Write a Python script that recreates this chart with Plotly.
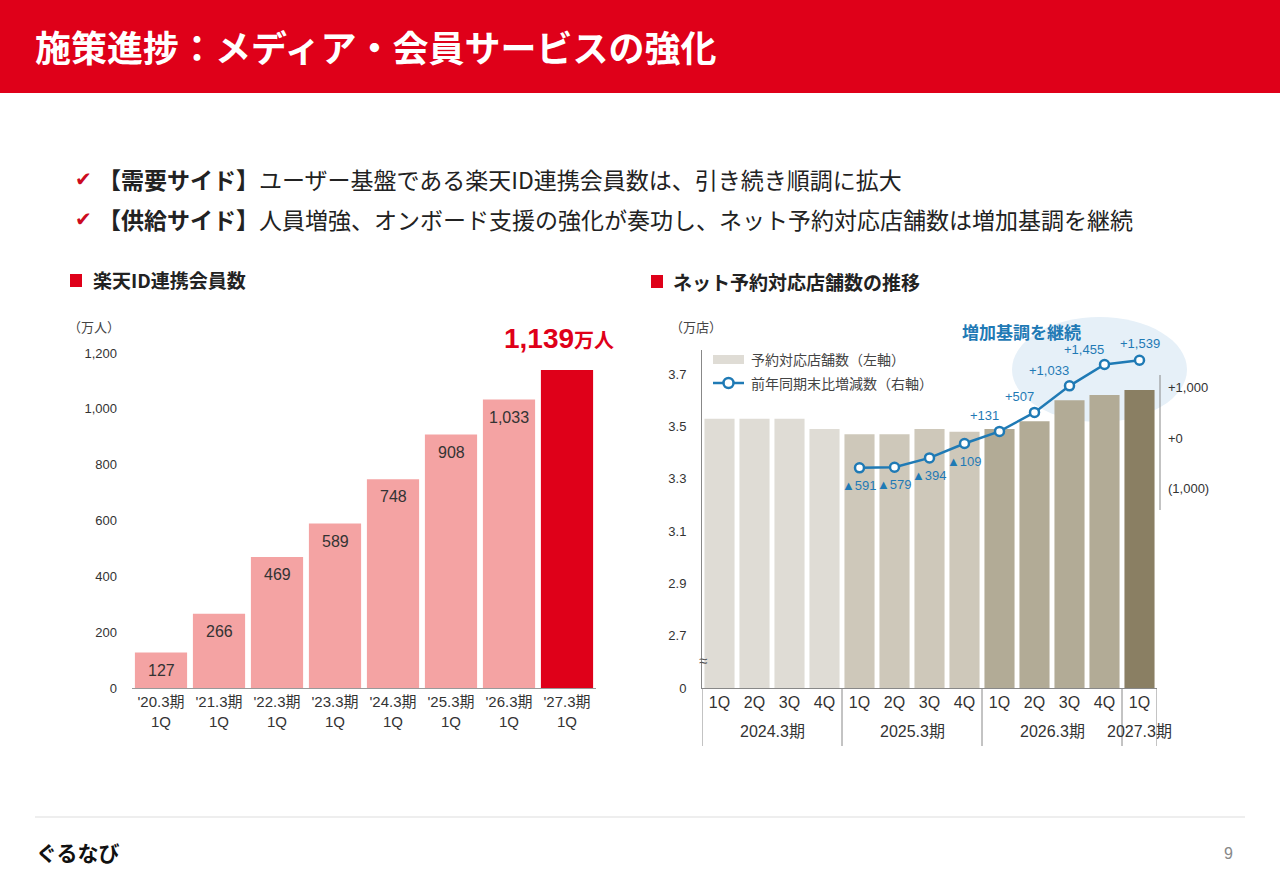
import plotly.graph_objects as go

W, H = 1280, 886

# 楽天ID連携会員数（万人）
member_periods = ["'20.3期<br>1Q", "'21.3期<br>1Q", "'22.3期<br>1Q", "'23.3期<br>1Q",
                  "'24.3期<br>1Q", "'25.3期<br>1Q", "'26.3期<br>1Q", "'27.3期<br>1Q"]
members = [127, 266, 469, 589, 748, 908, 1033, 1139]

# ネット予約対応店舗数（万店）
fiscal_years = ["2024.3期"] * 4 + ["2025.3期"] * 4 + ["2026.3期"] * 4 + ["2027.3期"]
quarters = ["1Q", "2Q", "3Q", "4Q"] * 3 + ["1Q"]
stores = [3.53, 3.53, 3.53, 3.49, 3.47, 3.47, 3.49, 3.48, 3.49, 3.52, 3.60, 3.62, 3.64]

# 前年同期末比増減数（2025.3期1Q〜）
yoy_change = [-591, -579, -394, -109, 131, 507, 1033, 1455, 1539]

year_colors = {"2024.3期": "#dfdcd5", "2025.3期": "#cec8ba", "2026.3期": "#b2ab96", "2027.3期": "#8a7f63"}
RED = "#df0019"
BLUE = "#1f7ab5"
FONT = "Liberation Sans, Noto Sans CJK JP"
JP = "Noto Sans CJK JP"


def px(x):
    return x / W


def py(y):
    return 1 - y / H


store_cats = [f"{y} {q}" for y, q in zip(fiscal_years, quarters)]
yoy_cats = store_cats[len(store_cats) - len(yoy_change):]

fig = go.Figure()

# left chart
fig.add_trace(go.Bar(
    x=member_periods, y=members, width=0.9,
    marker=dict(color=["#f4a3a3"] * (len(members) - 1) + [RED], line_width=0),
    showlegend=False, hoverinfo="skip", xaxis="x", yaxis="y"))

# right chart bars
fig.add_trace(go.Bar(
    x=store_cats, y=stores, width=0.86,
    marker=dict(color=[year_colors[y] for y in fiscal_years], line_width=0),
    name="予約対応店舗数（左軸）", showlegend=False, xaxis="x2", yaxis="y2"))

# right chart line
fig.add_trace(go.Scatter(
    x=yoy_cats, y=yoy_change, mode="lines+markers",
    line=dict(color=BLUE, width=2.5),
    marker=dict(symbol="circle", size=9, color="white", line=dict(color=BLUE, width=2.5)),
    name="前年同期末比増減数（右軸）", showlegend=False, xaxis="x2", yaxis="y3", cliponaxis=False))

shapes = [
    dict(type="rect", xref="paper", yref="paper", x0=0, x1=1, y0=py(93), y1=1,
         fillcolor=RED, line_width=0),
    dict(type="rect", xref="paper", yref="paper", x0=px(70), x1=px(82), y0=py(287), y1=py(274),
         fillcolor=RED, line_width=0),
    dict(type="rect", xref="paper", yref="paper", x0=px(651), x1=px(663), y0=py(288), y1=py(275),
         fillcolor=RED, line_width=0),
    dict(type="circle", xref="paper", yref="paper", x0=px(1012), x1=px(1187), y0=py(422), y1=py(317),
         fillcolor="#e6f0f8", line_width=0, layer="below"),
    dict(type="line", xref="paper", yref="paper", x0=px(1160), x1=px(1160), y0=py(510), y1=py(375),
         line=dict(color="#888888", width=1)),
    dict(type="line", xref="paper", yref="paper", x0=px(35), x1=px(1245), y0=py(817), y1=py(817),
         line=dict(color="#dddddd", width=1)),
    # legend keys
    dict(type="rect", xref="paper", yref="paper", x0=px(713), x1=px(744), y0=py(364), y1=py(355),
         fillcolor=year_colors["2024.3期"], line_width=0),
    dict(type="line", xref="paper", yref="paper", x0=px(713), x1=px(744), y0=py(383), y1=py(383),
         line=dict(color=BLUE, width=2.5)),
    dict(type="circle", xref="paper", yref="paper", x0=px(723.5), x1=px(733.5), y0=py(388), y1=py(378),
         fillcolor="white", line=dict(color=BLUE, width=2.5)),
]


def note(x, y, text, size, color="#222222", family=JP, xanchor="left", xref="paper"):
    return dict(x=x if xref != "paper" else px(x), y=py(y), xref=xref, yref="paper", text=text,
                showarrow=False, xanchor=xanchor, yanchor="middle",
                font=dict(size=size, color=color, family=family))


annotations = [
    note(33, 46, "<b>施策進捗：メディア・会員サービスの強化</b>", 36, "white"),
    note(73, 179, "✔", 20, "#cc0a20", "DejaVu Sans"),
    note(96, 179, "<b>【需要サイド】</b>ユーザー基盤である楽天ID連携会員数は、引き続き順調に拡大", 23),
    note(73, 219, "✔", 20, "#cc0a20", "DejaVu Sans"),
    note(96, 219, "<b>【供給サイド】</b>人員増強、オンボード支援の強化が奏功し、ネット予約対応店舗数は増加基調を継続", 23),
    note(91, 280, "<b>楽天ID連携会員数</b>", 19),
    note(671, 282, "<b>ネット予約対応店舗数の推移</b>", 19),
    note(66, 326, "（万人）", 13, "#444444"),
    note(668, 326, "（万店）", 13, "#444444"),
    note(559, 338, f"<b>{members[-1]:,}<span style='font-size:20px'>万人</span></b>", 28, RED, FONT, "center"),
    note(960, 331, "<b>増加基調を継続</b>", 17, BLUE),
    note(703, 660, "≈", 15, "#555555", FONT, "center"),
    note(749, 359, "予約対応店舗数（左軸）", 14, "#444444"),
    note(749, 383, "前年同期末比増減数（右軸）", 14, "#444444"),
    note(34, 852, "<b>ぐるなび</b>", 21, "#111111"),
    note(1228, 853, "9", 16, "#888888", FONT, "center"),
]

# member value labels inside the bars (the latest one is shown above in red)
for cat, v in zip(member_periods[:-1], members[:-1]):
    annotations.append(dict(x=cat, y=v, xref="x", yref="y", text=f"{v:,}", showarrow=False,
                            xanchor="center", yanchor="top", yshift=-7,
                            font=dict(size=16, color="#333333", family=FONT)))

# labels of the year-on-year line
for i, (cat, v) in enumerate(zip(yoy_cats, yoy_change)):
    if v < 0:
        lab, xa, ya, ys, xs = f"▲{-v:,}", "center", "top", -8, 0
    elif i == len(yoy_change) - 1:
        lab, xa, ya, ys, xs = f"+{v:,}", "center", "bottom", 7, 0
    else:
        lab, xa, ya, ys, xs = f"+{v:,}", "right", "bottom", 6, 1
    annotations.append(dict(x=cat, y=v, xref="x2", yref="y3", text=lab, showarrow=False,
                            xanchor=xa, yanchor=ya, yshift=ys, xshift=xs,
                            font=dict(size=13, color=BLUE, family=FONT)))

# fiscal year group labels and dividers under the quarter ticks
groups = []
for i, fy in enumerate(fiscal_years):
    if groups and groups[-1][0] == fy:
        groups[-1][2] = i
    else:
        groups.append([fy, i, i])
for fy, start, end in groups:
    annotations.append(note((start + end) / 2, 731, fy, 16, "#333333", FONT, "center", "x2"))
    shapes.append(dict(type="line", xref="x2", yref="paper", x0=start - 0.5, x1=start - 0.5,
                       y0=py(746), y1=py(688), line=dict(color="#888888", width=1)))
shapes.append(dict(type="line", xref="x2", yref="paper", x0=groups[-1][2] + 0.5, x1=groups[-1][2] + 0.5,
                   y0=py(746), y1=py(688), line=dict(color="#888888", width=1)))

fig.update_layout(
    width=W, height=H, margin=dict(l=0, r=0, t=0, b=0, autoexpand=False),
    paper_bgcolor="white", plot_bgcolor="white",
    font=dict(family=FONT, color="#333333"),
    barmode="group", showlegend=False,
    xaxis=dict(domain=[px(132), px(596)], anchor="y", type="category", automargin=False,
               range=[-0.5, len(members) - 0.5],
               showline=True, linecolor="#999999", ticks="", tickfont=dict(size=15, color="#333333")),
    yaxis=dict(domain=[py(688), py(353)], anchor="x", range=[0, 1200], automargin=False,
               tickvals=list(range(0, 1201, 200)), tickformat=",", showgrid=False, zeroline=False,
               showline=False, ticklabelstandoff=14, tickfont=dict(size=13, color="#333333")),
    xaxis2=dict(domain=[px(702), px(1157)], anchor="y2", type="category", automargin=False,
                range=[-0.5, len(store_cats) - 0.5],
                tickvals=store_cats, ticktext=quarters,
                showline=True, linecolor="#888888", ticks="", tickfont=dict(size=16, color="#333333")),
    yaxis2=dict(domain=[py(688), py(350)], anchor="x2", range=[2.5, 2.5 + 338 / 261.5],
                automargin=False,
                tickvals=[2.5, 2.7, 2.9, 3.1, 3.3, 3.5, 3.7],
                ticktext=["0", "2.7", "2.9", "3.1", "3.3", "3.5", "3.7"],
                showgrid=False, zeroline=False, showline=True, linecolor="#888888",
                ticklabelstandoff=12, tickfont=dict(size=13, color="#333333")),
    yaxis3=dict(overlaying="y2", anchor="x2", side="right", automargin=False,
                range=[(438 - 688) / 0.0505, (438 - 350) / 0.0505],
                tickvals=[-1000, 0, 1000], ticktext=["(1,000)", "+0", "+1,000"],
                showgrid=False, zeroline=False, showline=False,
                ticklabelstandoff=10, tickfont=dict(size=13, color="#333333")),
    shapes=shapes,
    annotations=annotations,
)

fig.write_html("out.html", config={"displayModeBar": False},
               post_script="document.body.style.margin='0';document.body.style.overflow='hidden';")
